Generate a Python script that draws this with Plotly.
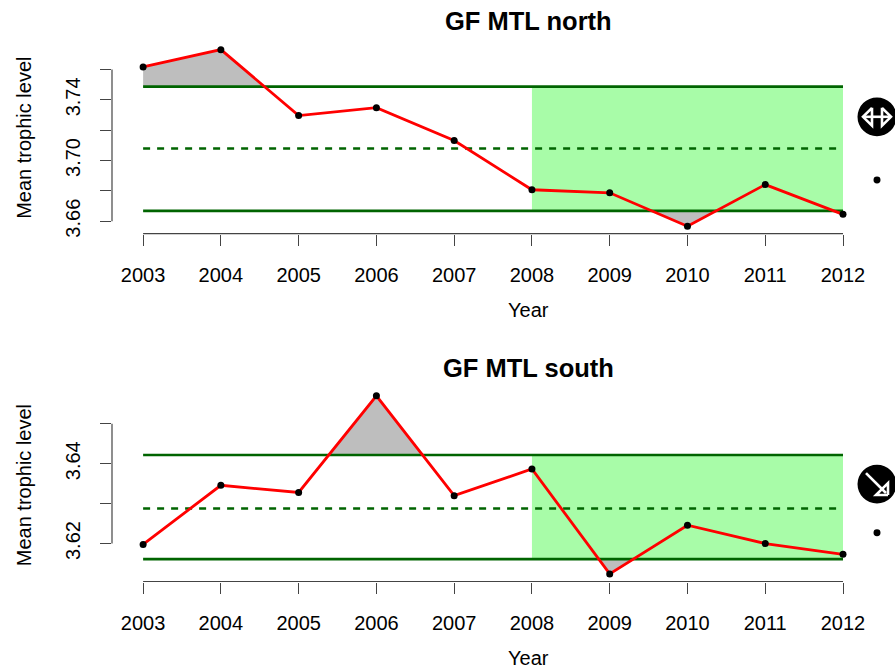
import numpy as np
import plotly.graph_objects as go

# data
years = list(range(2003, 2013))
mtl_north = [3.7617, 3.7731, 3.7296, 3.7348, 3.7132, 3.6807, 3.6787, 3.6567, 3.6841, 3.6645]
mtl_south = [3.6198, 3.6346, 3.6328, 3.6570, 3.6320, 3.6387, 3.6124, 3.6246, 3.6200, 3.6173]
north_band = [3.6668, 3.7079, 3.7487]   # lower, mean, upper
south_band = [3.6161, 3.6288, 3.6422]
ref_years = [2008, 2012]

north_ticks = [3.66, 3.68, 3.70, 3.72, 3.74, 3.76]
north_labels = ["3.66", "", "3.70", "", "3.74", ""]
south_ticks = [3.62, 3.63, 3.64, 3.65]
south_labels = ["3.62", "", "3.64", ""]

W, H = 895, 670
FONT = "Liberation Sans, Arial, sans-serif"
DARKGREEN = "#006400"


def px(x):
    return x / W


def py(y):
    return 1 - y / H


def split_at(xs, ys, level):
    # add the points where the line crosses the level
    ox, oy = [xs[0]], [ys[0]]
    for i in range(1, len(xs)):
        y0, y1 = ys[i - 1], ys[i]
        if (y0 - level) * (y1 - level) < 0:
            t = (level - y0) / (y1 - y0)
            ox.append(xs[i - 1] + t * (xs[i] - xs[i - 1]))
            oy.append(level)
        ox.append(xs[i])
        oy.append(ys[i])
    return np.array(ox), np.array(oy)


fig = go.Figure()

panels = [
    dict(name="north", vals=mtl_north, band=north_band, ticks=north_ticks, labels=north_labels,
         top=42, bottom=235, yr=[3.6518, 3.7783], axis=[3.66, 3.76]),
    dict(name="south", vals=mtl_south, band=south_band, ticks=south_ticks, labels=south_labels,
         top=391, bottom=585, yr=[3.6105, 3.6588], axis=[3.62, 3.65]),
]

shapes = []
annotations = []

for i, p in enumerate(panels, start=1):
    xa, ya = ("x", "y") if i == 1 else ("x2", "y2")
    lo, mid, hi = p["band"]

    # reference period band
    shapes.append(dict(type="rect", xref=xa, yref=ya, x0=ref_years[0], x1=ref_years[1],
                       y0=lo, y1=hi, fillcolor="#a8fca8", line=dict(width=0), layer="below"))

    # grey fill outside the band
    for level, fn in [(hi, np.maximum), (lo, np.minimum)]:
        sx, sy = split_at(years, p["vals"], level)
        fig.add_trace(go.Scatter(x=sx, y=[level] * len(sx), mode="lines", line=dict(width=0),
                                 xaxis=xa, yaxis=ya, hoverinfo="skip", showlegend=False))
        fig.add_trace(go.Scatter(x=sx, y=fn(sy, level), mode="lines", line=dict(width=0),
                                 fill="tonexty", fillcolor="#bebebe",
                                 xaxis=xa, yaxis=ya, hoverinfo="skip", showlegend=False))

    # band lines
    for level, dash in [(hi, "solid"), (lo, "solid"), (mid, "7px,7px")]:
        fig.add_trace(go.Scatter(x=[years[0], years[-1]], y=[level, level], mode="lines",
                                 line=dict(color=DARKGREEN, width=2.6, dash=dash),
                                 xaxis=xa, yaxis=ya, showlegend=False, hoverinfo="skip"))

    # series
    fig.add_trace(go.Scatter(x=years, y=p["vals"], mode="lines+markers",
                             line=dict(color="#ff0000", width=2.8),
                             marker=dict(color="black", size=7),
                             xaxis=xa, yaxis=ya, showlegend=False))

    # R style axis lines
    shapes.append(dict(type="line", xref=xa, yref=ya + " domain", x0=years[0], x1=years[-1],
                       y0=0, y1=0, line=dict(color="#444", width=1.2)))
    shapes.append(dict(type="line", xref=xa + " domain", yref=ya, x0=0, x1=0,
                       y0=p["axis"][0], y1=p["axis"][1], line=dict(color="#444", width=1.2)))

    fig.layout["xaxis" if i == 1 else "xaxis2"] = dict(
        domain=[px(112), px(871)], range=[2002.6, 2012.36], anchor=ya,
        tickvals=years, ticks="outside", ticklen=11, tickcolor="#444", tickwidth=1.2,
        showline=False, showgrid=False, zeroline=False, ticklabelstandoff=12,
        tickfont=dict(size=20, color="black", family=FONT))
    fig.layout["yaxis" if i == 1 else "yaxis2"] = dict(
        domain=[py(p["bottom"]), py(p["top"])], range=p["yr"], anchor=xa,
        tickvals=p["ticks"], ticktext=p["labels"], tickangle=-90,
        ticks="outside", ticklen=11, tickcolor="#444", tickwidth=1.2,
        showline=False, showgrid=False, zeroline=False, ticklabelstandoff=12,
        tickfont=dict(size=20, color="black", family=FONT),
        title=dict(text="Mean trophic level", standoff=24,
                   font=dict(size=20, color="black", family=FONT)))

    annotations += [
        dict(text="<b>GF MTL %s</b>" % p["name"], x=px(528), y=py(p["top"] - 21),
             xref="paper", yref="paper", xanchor="center", yanchor="middle",
             showarrow=False, font=dict(size=25.5, family=FONT)),
        dict(text="Year", x=px(528), y=py(p["bottom"] + 77), xref="paper", yref="paper",
             xanchor="center", yanchor="middle",
             showarrow=False, font=dict(size=20, family=FONT)),
    ]

# trend icons at the right edge
icons = [(877, 117.5, 181, "flat"), (877, 487, 536, "down")]
for cx, cy, dy, kind in icons:
    r = 19.5
    shapes.append(dict(type="circle", xref="paper", yref="paper",
                       x0=px(cx - r), x1=px(cx + r), y0=py(cy + r), y1=py(cy - r),
                       fillcolor="black", line=dict(width=0)))
    if kind == "flat":
        pts = [[(-14, 0), (14, 0)],
               [(-5, -9), (-14, 0), (-5, 9), (-5, -9)],
               [(5, -9), (14, 0), (5, 9), (5, -9)]]
    else:
        pts = [[(-11, -11), (9, 9)],
               [(11, 11), (11, -1), (-1, 11), (11, 11)]]
    for seg in pts:
        path = "M " + " L ".join("%f,%f" % (px(cx + a), py(cy + b)) for a, b in seg)
        shapes.append(dict(type="path", xref="paper", yref="paper", path=path,
                           line=dict(color="white", width=2.6)))
    shapes.append(dict(type="circle", xref="paper", yref="paper",
                       x0=px(cx - 3.5), x1=px(cx + 3.5), y0=py(dy + 3.5), y1=py(dy - 3.5),
                       fillcolor="black", line=dict(width=0)))

fig.update_layout(
    width=W, height=H,
    margin=dict(l=0, r=0, t=0, b=0),
    plot_bgcolor="white", paper_bgcolor="white",
    font=dict(family=FONT, color="black"),
    shapes=shapes, annotations=annotations,
    showlegend=False,
)

fig.write_html(
    "out.html", config={"displayModeBar": False},
    post_script=("document.body.style.margin = '0';"
                 "document.body.style.overflow = 'hidden';"
                 "document.documentElement.style.overflow = 'hidden';"))
